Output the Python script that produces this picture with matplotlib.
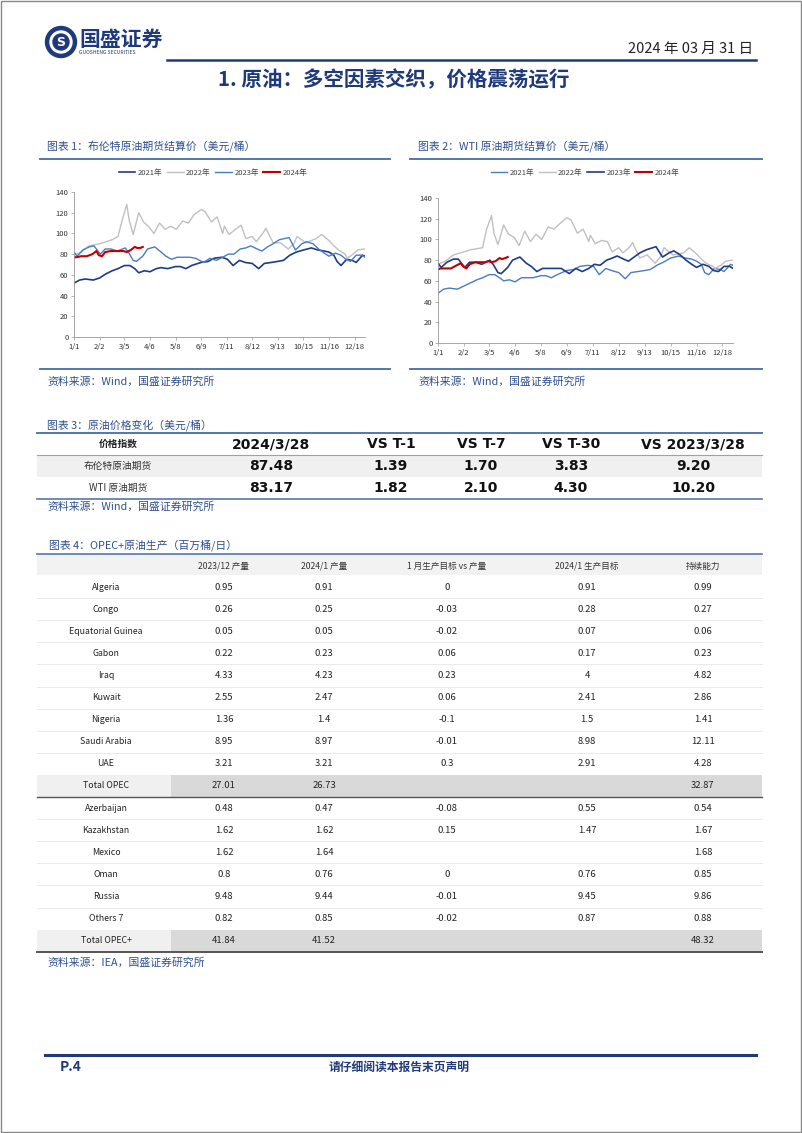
import datetime
import numpy as np
import matplotlib
matplotlib.use("Agg")
import matplotlib.pyplot as plt
from matplotlib.lines import Line2D
from matplotlib.patches import Rectangle, Ellipse

plt.rcParams['font.family'] = ['Noto Sans CJK SC', 'DejaVu Sans']

# ---- chart data (roughly every 1-2 weeks) ----
d2021 = ["1/1", "1/8", "1/15", "1/25", "2/2", "2/10", "2/18", "2/25", "3/5", "3/12", "3/18", "3/23",
         "3/30", "4/6", "4/14", "4/20", "4/28", "5/8", "5/14", "5/21", "5/28", "6/9", "6/18", "6/25",
         "7/5", "7/12", "7/19", "7/27", "8/3", "8/12", "8/20", "8/27", "9/5", "9/13", "9/20", "9/28",
         "10/6", "10/15", "10/25", "11/2", "11/10", "11/16", "11/22", "11/26", "12/1", "12/8", "12/15",
         "12/20", "12/28", "12/31"]
brent_2021 = [52, 55, 56, 55, 57, 61, 64, 66, 69, 69, 66, 62, 64, 63, 66, 67, 66, 68, 68, 66, 69, 72,
              73, 76, 77, 75, 69, 74, 72, 71, 66, 71, 72, 73, 74, 79, 82, 84, 86, 84, 83, 82, 79, 73,
              69, 75, 74, 72, 79, 78]
wti_2021 = [48, 52, 53, 52, 55, 58, 61, 63, 66, 66, 63, 60, 61, 59, 63, 63, 63, 65, 65, 63, 66, 70,
            71, 74, 75, 74, 66, 72, 70, 68, 62, 68, 69, 70, 71, 75, 78, 82, 84, 82, 81, 79, 76, 68,
            66, 72, 71, 69, 76, 75]

d2022 = ["1/1", "1/10", "1/20", "2/2", "2/10", "2/18", "2/25", "3/2", "3/8", "3/11", "3/16", "3/23",
         "3/29", "4/5", "4/11", "4/18", "4/25", "5/2", "5/9", "5/17", "5/24", "5/31", "6/9", "6/14",
         "6/22", "6/29", "7/6", "7/8", "7/14", "7/22", "7/29", "8/4", "8/12", "8/17", "8/26", "8/29",
         "9/7", "9/16", "9/26", "10/3", "10/7", "10/18", "10/31", "11/7", "11/16", "11/22", "11/28",
         "12/6", "12/9", "12/16", "12/22", "12/30"]
brent_2022 = [79, 82, 88, 90, 92, 94, 97, 112, 128, 113, 99, 120, 111, 106, 100, 110, 104, 107, 104,
              112, 110, 118, 123, 121, 111, 116, 100, 107, 99, 104, 108, 95, 97, 92, 101, 105, 91, 91,
              85, 90, 97, 91, 95, 99, 93, 88, 84, 80, 76, 80, 84, 85]
wti_2022 = [76, 79, 85, 88, 90, 91, 92, 110, 123, 106, 95, 114, 105, 102, 94, 108, 98, 105, 100,
            112, 110, 115, 121, 119, 106, 110, 98, 104, 96, 99, 98, 88, 92, 87, 93, 97, 82, 85,
            77, 84, 92, 85, 87, 92, 86, 81, 77, 74, 72, 75, 79, 80]

d2023 = ["1/1", "1/5", "1/12", "1/20", "1/26", "2/3", "2/9", "2/16", "2/24", "3/6", "3/10", "3/16",
         "3/20", "3/28", "4/3", "4/12", "4/20", "4/26", "5/3", "5/10", "5/17", "5/26", "6/2", "6/12",
         "6/20", "6/28", "7/6", "7/13", "7/20", "7/28", "8/4", "8/10", "8/18", "8/24", "8/31", "9/7",
         "9/15", "9/27", "10/5", "10/13", "10/19", "10/27", "11/3", "11/10", "11/16", "11/24", "12/1",
         "12/7", "12/13", "12/20", "12/27", "12/31"]
brent_2023 = [82, 78, 84, 87, 88, 80, 85, 85, 83, 86, 82, 74, 73, 78, 85, 87, 82, 78, 75, 77, 77, 77,
              76, 72, 76, 74, 77, 80, 80, 85, 86, 88, 85, 83, 87, 90, 94, 96, 84, 90, 92, 90, 85, 81,
              78, 81, 79, 75, 73, 79, 79, 77]
wti_2023 = [77, 73, 78, 81, 81, 73, 78, 78, 76, 80, 76, 68, 67, 73, 80, 83, 77, 74, 69, 72, 72, 72,
            72, 67, 72, 69, 72, 76, 75, 80, 82, 84, 81, 79, 83, 87, 90, 93, 83, 87, 89, 85, 80, 76,
            73, 76, 74, 70, 69, 74, 74, 72]

d2024 = ["1/1", "1/4", "1/10", "1/17", "1/24", "1/29", "2/1", "2/5", "2/9", "2/16", "2/22", "2/28",
         "3/4", "3/8", "3/13", "3/18", "3/21", "3/25", "3/28"]
brent_2024 = [77, 77, 78, 78, 80, 83, 79, 78, 82, 83, 83, 83, 83, 82, 84, 87, 86, 86, 87]
wti_2024 = [71, 72, 72, 72, 75, 77, 74, 72, 76, 78, 78, 78, 79, 78, 79, 82, 81, 82, 83]

tick_dates = ["1/1", "2/2", "3/5", "4/6", "5/8", "6/9", "7/11", "8/12", "9/13", "10/15", "11/16", "12/18"]
legend_labels = ["2021年", "2022年", "2023年", "2024年"]

# ---- table data ----
t3_header = ["价格指数", "2024/3/28", "VS T-1", "VS T-7", "VS T-30", "VS 2023/3/28"]
t3_rows = ["布伦特原油期货", "WTI 原油期货"]
t3_values = [["87.48", "1.39", "1.70", "3.83", "9.20"],
             ["83.17", "1.82", "2.10", "4.30", "10.20"]]

t4_header = ["2023/12 产量", "2024/1 产量", "1 月生产目标 vs 产量", "2024/1 生产目标", "持续能力"]
t4_rows = ["Algeria", "Congo", "Equatorial Guinea", "Gabon", "Iraq", "Kuwait", "Nigeria",
           "Saudi Arabia", "UAE", "Total OPEC", "Azerbaijan", "Kazakhstan", "Mexico", "Oman",
           "Russia", "Others 7", "Total OPEC+"]
t4_values = [["0.95", "0.91", "0", "0.91", "0.99"],
             ["0.26", "0.25", "-0.03", "0.28", "0.27"],
             ["0.05", "0.05", "-0.02", "0.07", "0.06"],
             ["0.22", "0.23", "0.06", "0.17", "0.23"],
             ["4.33", "4.23", "0.23", "4", "4.82"],
             ["2.55", "2.47", "0.06", "2.41", "2.86"],
             ["1.36", "1.4", "-0.1", "1.5", "1.41"],
             ["8.95", "8.97", "-0.01", "8.98", "12.11"],
             ["3.21", "3.21", "0.3", "2.91", "4.28"],
             ["27.01", "26.73", "", "", "32.87"],
             ["0.48", "0.47", "-0.08", "0.55", "0.54"],
             ["1.62", "1.62", "0.15", "1.47", "1.67"],
             ["1.62", "1.64", "", "", "1.68"],
             ["0.8", "0.76", "0", "0.76", "0.85"],
             ["9.48", "9.44", "-0.01", "9.45", "9.86"],
             ["0.82", "0.85", "-0.02", "0.87", "0.88"],
             ["41.84", "41.52", "", "", "48.32"]]

NAVY = "#1f3a7a"
CAP = "#2f4f8f"
RULE = "#5577aa"
C_DARK = "#1f3c88"
C_MID = "#4a7cc0"
C_GRAY = "#c0c0c0"
C_RED = "#c00000"

W, H = 802, 1133
fig = plt.figure(figsize=(W / 100, H / 100), dpi=100)


def fx(x):
    return x / W


def fy(y):
    return 1 - y / H


def hline(x0, x1, y, color, lw):
    fig.add_artist(Line2D([fx(x0), fx(x1)], [fy(y), fy(y)], color=color, lw=lw))


def box(x0, y0, x1, y1, color):
    fig.add_artist(Rectangle((fx(x0), fy(y1)), fx(x1) - fx(x0), fy(y0) - fy(y1),
                             facecolor=color, edgecolor="none", zorder=0))


def text(x, y, s, **kw):
    kw.setdefault("va", "center")
    fig.text(fx(x), fy(y), s, **kw)


def doy(s):
    m, d = s.split("/")
    return datetime.date(2023, int(m), int(d)).timetuple().tm_yday - 1


# page border
fig.add_artist(Rectangle((0.001, 0.001), 0.998, 0.998, facecolor="none", edgecolor="#888888", lw=1))

# ---- header ----
fig.add_artist(Ellipse((fx(61), fy(42)), fx(31), 31 / H, color=NAVY))
fig.add_artist(Ellipse((fx(61), fy(42)), fx(22), 22 / H, color="white"))
fig.add_artist(Ellipse((fx(61), fy(42)), fx(16), 16 / H, color=NAVY))
text(61, 42, "S", ha="center", color="white", fontsize=9, fontweight="bold", family="DejaVu Sans")
text(79, 39, "国盛证券", ha="left", color=NAVY, fontsize=15, fontweight="bold")
text(79, 53, "GUOSHENG SECURITIES", ha="left", color=NAVY, fontsize=3.6)
text(753, 49, "2024 年 03 月 31 日", ha="right", color="#222222", fontsize=10.5)
hline(167, 756, 60, NAVY, 1.8)
text(394, 80, "1. 原油：多空因素交织，价格震荡运行", ha="center", color=NAVY, fontsize=14.8, fontweight="bold")


# ---- line charts ----
def price_chart(left, right, top, bottom, series, legend_x):
    ax = fig.add_axes([fx(left), fy(bottom), fx(right) - fx(left), fy(top) - fy(bottom)])
    handles = []
    for dates, vals, color, lw in series:
        h, = ax.plot([doy(d) for d in dates], vals, color=color, lw=lw)
        handles.append(h)
    ax.set_xlim(0, 364)
    ax.set_ylim(0, 140)
    ax.set_yticks(np.arange(0, 141, 20))
    ax.set_xticks([doy(d) for d in tick_dates])
    ax.set_xticklabels(tick_dates)
    ax.tick_params(labelsize=5.5, length=2, width=0.5, colors="#999999", labelcolor="#333333", pad=2)
    for s in ["top", "right"]:
        ax.spines[s].set_visible(False)
    for s in ["left", "bottom"]:
        ax.spines[s].set_color("#999999")
        ax.spines[s].set_linewidth(0.6)
    fig.legend(handles, legend_labels, loc="center", bbox_to_anchor=(fx(legend_x), fy(173)),
               ncol=4, frameon=False, fontsize=5.5, handlelength=2.2, columnspacing=0.6,
               handletextpad=0.3, labelcolor="#444444")
    return ax


price_chart(74, 365, 192, 337,
            [(d2021, brent_2021, C_DARK, 1.2), (d2022, brent_2022, C_GRAY, 1.0),
             (d2023, brent_2023, C_MID, 1.0), (d2024, brent_2024, C_RED, 1.5)], 213)
price_chart(438, 733, 198, 343,
            [(d2021, wti_2021, C_MID, 1.0), (d2022, wti_2022, C_GRAY, 1.0),
             (d2023, wti_2023, C_DARK, 1.2), (d2024, wti_2024, C_RED, 1.5)], 585)

CAP_FS = 7.8
text(47, 146, "图表 1：布伦特原油期货结算价（美元/桶）", ha="left", color=CAP, fontsize=CAP_FS, style="italic")
text(418, 146, "图表 2：WTI 原油期货结算价（美元/桶）", ha="left", color=CAP, fontsize=CAP_FS, style="italic")
hline(40, 390, 159, RULE, 1.4)
hline(410, 762, 159, RULE, 1.4)
hline(40, 390, 369, RULE, 1.4)
hline(410, 762, 369, RULE, 1.4)
text(47, 382, "资料来源：Wind，国盛证券研究所", ha="left", color=CAP, fontsize=CAP_FS, style="italic")
text(418, 382, "资料来源：Wind，国盛证券研究所", ha="left", color=CAP, fontsize=CAP_FS, style="italic")

# ---- table 3 ----
text(47, 425, "图表 3：原油价格变化（美元/桶）", ha="left", color=CAP, fontsize=CAP_FS, style="italic")
hline(37, 762, 433, RULE, 1.4)
t3_x = [118, 271, 391, 481, 571, 693]
text(t3_x[0], 444, t3_header[0], ha="center", color="#222222", fontsize=7, fontweight="bold")
for x, s in zip(t3_x[1:], t3_header[1:]):
    text(x, 444, s, ha="center", color="#111111", fontsize=10, fontweight="bold", family="DejaVu Sans")
hline(37, 762, 455, "#8fa3c4", 0.8)
box(37, 455, 762, 477, "#f0f0f0")
for i, (lab, vals) in enumerate(zip(t3_rows, t3_values)):
    y = 466 + 22 * i
    text(t3_x[0], y, lab, ha="center", color="#333333", fontsize=7)
    for x, v in zip(t3_x[1:], vals):
        text(x, y, v, ha="center", color="#111111", fontsize=10, fontweight="bold", family="DejaVu Sans")
hline(37, 762, 499, RULE, 1.2)
text(47, 507, "资料来源：Wind，国盛证券研究所", ha="left", color=CAP, fontsize=CAP_FS, style="italic")

# ---- table 4 ----
text(49, 545, "图表 4：OPEC+原油生产（百万桶/日）", ha="left", color=CAP, fontsize=CAP_FS, style="italic")
box(37, 554, 762, 575, "#f2f2f2")
hline(37, 762, 554, RULE, 1.2)
t4_x = [106, 224, 324, 447, 587, 703]
for x, s in zip(t4_x[1:], t4_header):
    text(x, 566, s, ha="center", color="#333333", fontsize=6.2)
row_top = 576
step = 22.1
for i, (lab, vals) in enumerate(zip(t4_rows, t4_values)):
    y0 = row_top + step * i
    y = y0 + step / 2
    if lab.startswith("Total"):
        box(37, y0, 171, y0 + step, "#f0f0f0")
        box(171, y0, 762, y0 + step, "#d9d9d9")
    elif i > 0 and not t4_rows[i - 1].startswith("Total"):
        hline(37, 762, y0, "#e6e6e6", 0.6)
    text(t4_x[0], y, lab, ha="center", color="#222222", fontsize=6.3)
    for x, v in zip(t4_x[1:], vals):
        text(x, y, v, ha="center", color="#222222", fontsize=6.8)
    if lab == "Total OPEC":
        hline(37, 762, y0 + step, "#555555", 1.0)
hline(37, 762, row_top + step * len(t4_rows), "#555555", 1.4)
text(47, 963, "资料来源：IEA，国盛证券研究所", ha="left", color=CAP, fontsize=CAP_FS, style="italic")

# ---- footer ----
hline(45, 756, 1055, NAVY, 2.2)
text(60, 1067, "P.4", ha="left", color=NAVY, fontsize=10, fontweight="bold", style="italic")
text(399, 1067, "请仔细阅读本报告末页声明", ha="center", color=NAVY, fontsize=8.5, fontweight="bold")

fig.savefig("out.png", dpi=100)
